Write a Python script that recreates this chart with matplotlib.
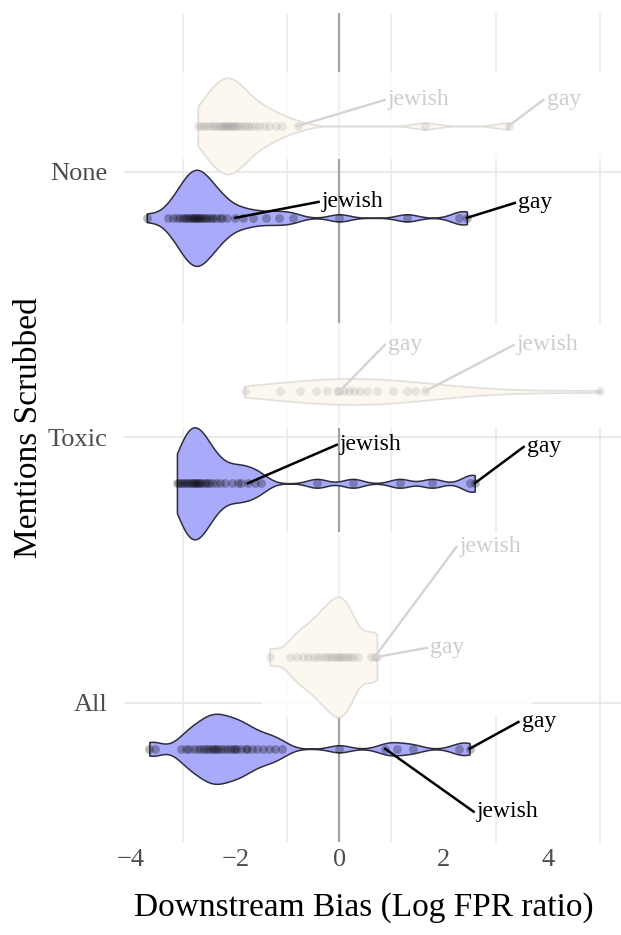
import numpy as np
import matplotlib.pyplot as plt
from matplotlib.patches import Rectangle

plt.rcParams['font.family'] = ['Liberation Serif', 'DejaVu Serif']

# categories, top to bottom
categories = ['None', 'Toxic', 'All']
ypos = [3, 2, 1]

# log FPR ratio per identity term, after scrubbing (blue violins)
scrubbed_none = [-3.7, -3.3, -3.2, -3.12, -3.06, -3.0, -2.96, -2.92, -2.88, -2.85, -2.82,
                 -2.79, -2.76, -2.73, -2.7, -2.67, -2.64, -2.6, -2.56, -2.52, -2.47, -2.42,
                 -2.36, -2.3, -2.25, -2.15, -2.0, -1.85, -1.66, -1.4, -1.15, -0.9, 0.0, 1.3,
                 2.3, 2.45]
scrubbed_toxic = [-3.12, -3.08, -3.04, -3.0, -2.96, -2.92, -2.88, -2.85, -2.82, -2.79, -2.76,
                  -2.73, -2.7, -2.67, -2.63, -2.59, -2.55, -2.5, -2.44, -2.37, -2.3, -2.2,
                  -2.07, -1.95, -1.88, -1.76, -1.62, -1.5, -0.43, 0.26, 1.16, 1.78, 2.5, 2.6]
scrubbed_all = [-3.65, -3.55, -3.05, -2.95, -2.88, -2.8, -2.72, -2.66, -2.6, -2.55, -2.5,
                -2.45, -2.4, -2.36, -2.33, -2.28, -2.22, -2.16, -2.1, -2.04, -2.0, -1.96,
                -1.88, -1.8, -1.77, -1.68, -1.58, -1.47, -1.36, -1.24, -1.1, 0.0, 0.88, 1.1,
                1.41, 2.3, 2.5]

# faded (beige) violins
orig_none = [-2.72, -2.66, -2.6, -2.54, -2.48, -2.43, -2.38, -2.34, -2.3, -2.26, -2.22,
             -2.19, -2.16, -2.13, -2.1, -2.07, -2.04, -2.0, -1.96, -1.92, -1.87, -1.82,
             -1.76, -1.7, -1.62, -1.54, -1.45, -1.35, -1.22, -1.1, -0.8, 1.65, 3.25]
orig_toxic = [-1.82, -1.14, -0.76, -0.44, -0.24, -0.05, 0.0, 0.08, 0.18, 0.28, 0.4, 0.53,
              0.72, 1.03, 1.3, 1.45, 1.64, 5.01]
orig_all = [-1.34, -0.95, -0.82, -0.7, -0.6, -0.5, -0.42, -0.35, -0.28, -0.22, -0.16, -0.1,
            -0.05, 0.0, 0.04, 0.09, 0.14, 0.2, 0.27, 0.36, 0.6, 0.68, 0.72]

# labelled terms (None, Toxic, All)
jewish_scrubbed = [-2.0, -1.76, 0.88]
gay_scrubbed = [2.45, 2.6, 2.5]
jewish_orig = [-0.8, 1.64, 0.68]
gay_orig = [3.25, 0.0, 0.72]

xticks = [-4, -2, 0, 2, 4]

# layout / style
dodge = 0.173
blue_widths = [0.362, 0.422, 0.264]
beige_widths = [0.362, 0.098, 0.452]
blue_bw = [0.2, 0.19, 0.2]
beige_bw = [0.24, 1.3, 0.17]
# text positions: (x, y offset from category)
jew_s_txt = [(-0.34, -0.113), (0.01, -0.028), (2.64, -0.41)]
gay_s_txt = [(3.43, -0.117), (3.60, -0.036), (3.50, -0.072)]
jew_o_txt = [(0.93, 0.271), (3.41, 0.348), (2.31, 0.588)]
gay_o_txt = [(3.98, 0.271), (0.93, 0.348), (1.74, 0.207)]


def violin(ax, vals, y, width, bw, face, edge, lw, z):
    factor = bw / np.std(vals, ddof=1)
    parts = ax.violinplot([vals], positions=[y], widths=width, orientation='horizontal',
                          showextrema=False, bw_method=factor, points=600)
    for b in parts['bodies']:
        b.set_facecolor(face)
        b.set_edgecolor(edge)
        b.set_linewidth(lw)
        b.set_alpha(1)
        b.set_zorder(z)


fig = plt.figure(figsize=(6.21, 9.35), dpi=100)
ax = fig.add_axes([0.1994, 0.0995, 0.8006, 0.887])
ax.set_xlim(-4.14, 5.41)
ax.set_ylim(0.476, 3.6)

# grid
for gx in [-3, -1, 1, 3, 5]:
    ax.axvline(gx, color='#E8E8E8', lw=1.1, zorder=0.5)
for gy in ypos:
    ax.axhline(gy, color='#E8E8E8', lw=1.3, zorder=0.5)
ax.axvline(0, color='#A3A3A3', lw=1.6, zorder=0.6)

# faded layer backing
ax.add_patch(Rectangle((-4.14, 3.049), 9.6, 0.328, color='white', alpha=0.85, lw=0, zorder=1))
ax.add_patch(Rectangle((-4.14, 2.036), 9.6, 0.395, color='white', alpha=0.85, lw=0, zorder=1))
ax.add_patch(Rectangle((-1.49, 0.947), 5.2, 0.697, color='white', alpha=0.85, lw=0, zorder=1))

orig = [orig_none, orig_toxic, orig_all]
scrub = [scrubbed_none, scrubbed_toxic, scrubbed_all]

for i, y in enumerate(ypos):
    yb = y + dodge
    violin(ax, orig[i], yb, beige_widths[i], beige_bw[i], '#FCF8F0', '#E2DFDA', 1.2, 2)
    ax.scatter(orig[i], [yb] * len(orig[i]), s=40, color='#888888', alpha=0.18,
               linewidths=0, zorder=3)
    for val, (tx, ty), name in [(jewish_orig[i], jew_o_txt[i], 'jewish'),
                                (gay_orig[i], gay_o_txt[i], 'gay')]:
        ax.plot([val, tx - 0.06], [yb, y + ty], color='#D4D4D4', lw=1.7, zorder=3.5)
        ax.text(tx, y + ty, name, color='#CDCDCD', fontsize=17, ha='left', va='center',
                zorder=3.6)

    ys = y - dodge
    violin(ax, scrub[i], ys, blue_widths[i], blue_bw[i], '#AAAAFA', '#2E2E3C', 1.1, 4)
    ax.scatter(scrub[i], [ys] * len(scrub[i]), s=40, color='black', alpha=0.28,
               linewidths=0, zorder=5)
    for val, (tx, ty), name in [(jewish_scrubbed[i], jew_s_txt[i], 'jewish'),
                                (gay_scrubbed[i], gay_s_txt[i], 'gay')]:
        ax.plot([val, tx - 0.06], [ys, y + ty], color='black', lw=1.8, zorder=6)
        ax.text(tx, y + ty, name, color='black', fontsize=17, ha='left', va='center',
                zorder=6)

for s in ax.spines.values():
    s.set_visible(False)
ax.set_yticks(ypos)
ax.set_yticklabels(categories)
ax.set_xticks(xticks)
ax.tick_params(axis='both', length=0, labelsize=19, labelcolor='#4D4D4D')
ax.tick_params(axis='y', pad=12)
ax.tick_params(axis='x', pad=5)

ax.set_xlabel('Downstream Bias (Log FPR ratio)', fontsize=24)
ax.set_ylabel('Mentions Scrubbed', fontsize=24)
ax.xaxis.set_label_coords(0.483, -0.06)
ax.yaxis.set_label_coords(-0.16, 0.5)

fig.savefig('out.png', dpi=100)
